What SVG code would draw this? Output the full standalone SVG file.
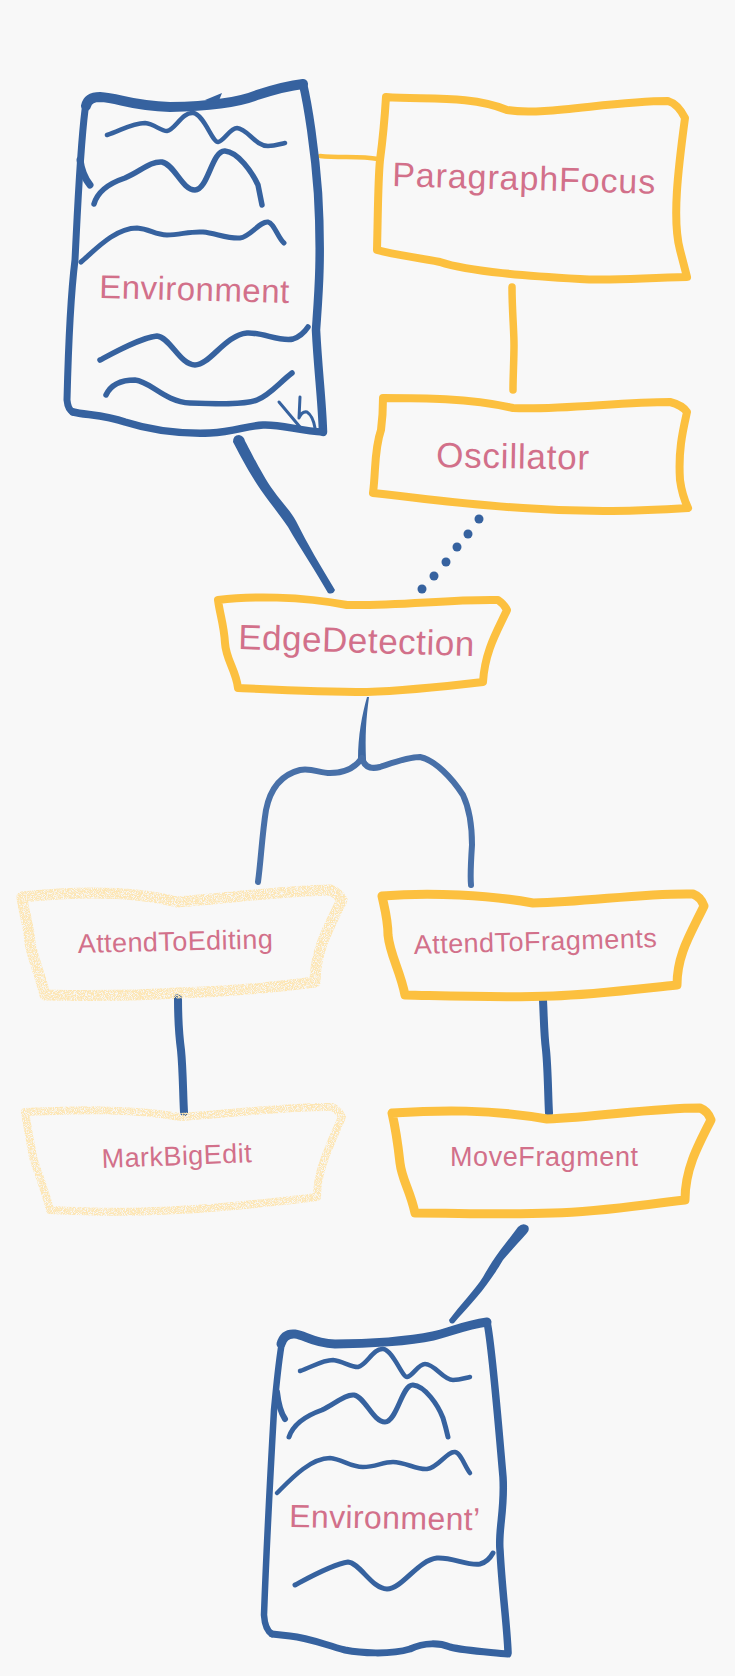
<svg xmlns="http://www.w3.org/2000/svg" width="735" height="1676" viewBox="0 0 735 1676">
<style>
.s{fill:none;stroke-linecap:round;stroke-linejoin:round}
.b{stroke:#36629f}
.y{stroke:#fcc03f}
.f{fill:#36629f}
.box{fill:none;stroke:#fcc03f;stroke-width:8;stroke-linejoin:round}
.pale{fill:none;stroke:#fde6b4;stroke-linejoin:round;filter:url(#grain)}
.t{font-family:"Liberation Sans",Arial,sans-serif;fill:#d2708a}
</style>
<defs>
<filter id="grain" x="-5%" y="-5%" width="110%" height="110%">
<feTurbulence type="fractalNoise" baseFrequency="1.1" numOctaves="2" seed="4" result="n"/>
<feColorMatrix in="n" type="matrix" values="0 0 0 0 0 0 0 0 0 0 0 0 0 0 0 0 0 0 4 -1.3" result="m"/>
<feComposite in="SourceGraphic" in2="m" operator="in"/>
</filter>
</defs>
<rect width="735" height="1676" fill="#f8f8f8"/>
<g id="connectors">
<path class="s y" stroke-width="4.5" d="M320 156C340 158 360 156 378 159"/>
<path class="s y" stroke-width="7.5" d="M512 287C512 310 514 330 514 345C514 360 513 375 513 390"/>
<path class="f" d="M233 442Q233 435 239 435Q244 436 245 441C250 450 262 475 273 490C282 503 290 510 296 521C308 545 320 565 335 590Q333 595 328 593C315 570 300 548 288 527C280 515 270 503 263 493C255 482 245 465 233 442Z"/>
<g class="f"><circle cx="479" cy="519" r="4.5"/><circle cx="468" cy="534" r="4.5"/><circle cx="457" cy="547" r="4.5"/><circle cx="446" cy="562" r="4.5"/><circle cx="434" cy="576" r="4.5"/><circle cx="422" cy="589" r="4.5"/></g>
<path fill="#3f69a3" d="M369 697C366 720 365 735 366 760L358 760C358 735 362 715 367 697Z"/>
<path class="s" stroke="#4870a8" stroke-width="6" d="M362 758C355 768 345 773 330 773C320 773 312 768 300 770C280 775 270 790 266 810C262 835 261 860 258 882"/>
<path class="s" stroke="#4870a8" stroke-width="6" d="M363 761C366 768 372 769 380 767C395 762 408 757 420 757C435 760 452 778 463 795C470 810 472 825 472 845C471 860 470 875 471 885"/>
<path class="s b" stroke-width="8" d="M178 998C178 1020 179 1035 181 1050C183 1070 183 1095 184 1112"/>
<path class="s b" stroke-width="8" d="M543 1000C544 1020 544 1035 546 1050C548 1070 548 1095 549 1113"/>
<path class="f" d="M518 1227Q523 1222 528 1226Q530 1230 527 1233C518 1243 510 1252 503 1260C497 1270 495 1273 490 1280C480 1295 465 1310 454 1323Q450 1325 449 1320C460 1305 475 1290 483 1277C487 1270 490 1265 492 1262C500 1250 510 1238 518 1227Z"/>
</g>
<g id="environment">
<path class="s b" stroke-width="10" d="M86 106Q88 97 100 97C120 98 130 106 170 107C215 106 240 102 257 95Q285 86 303 84"/>
<path class="s b" stroke-width="8.5" d="M303 84C308 105 315 150 318 193C322 260 318 300 316 330C318 370 322 400 323 432"/>
<path class="s b" stroke-width="7.5" d="M323 432C300 431 280 424 263 425C245 426 235 432 210 433C180 434 150 430 125 422C105 415 85 415 73 412"/>
<path class="s b" stroke-width="7" d="M73 412Q68 410 67 400C68 360 70 300 75 260C78 200 80 150 85 110"/>
<path class="s b" stroke-width="7" d="M80 160Q82 175 90 185"/>
<path class="f" d="M205 100L222 93L218 103Z"/>
<path class="s b" stroke-width="4.5" d="M107 135C120 131 132 123 145 123C155 124 160 131 167 131C175 130 182 112 193 113C204 114 212 142 218 142C224 141 230 128 237 128C248 129 255 146 268 146C275 146 280 144 285 143"/>
<path class="s b" stroke-width="5.5" d="M94 204C98 190 110 183 125 178C140 172 150 161 162 162C175 165 182 190 195 190C208 190 212 150 225 151C238 152 252 172 258 185Q260 195 262 205"/>
<path class="s b" stroke-width="5" d="M81 262C95 250 115 228 137 228C150 229 155 235 167 235C180 235 190 231 203 232C215 233 228 239 240 238C250 237 260 221 268 222C274 223 278 238 284 243"/>
<path class="s b" stroke-width="5.5" d="M100 360C115 352 140 338 157 336C170 337 180 365 195 365C210 365 225 335 247 333C262 332 280 342 293 339Q302 336 308 327"/>
<path class="s b" stroke-width="5.5" d="M106 395C112 382 125 380 135 380C150 381 165 402 190 403C215 404 245 405 257 400C270 395 280 382 292 373"/>
<path class="s b" stroke-width="3" d="M279 402L300 427M300 397L299 418Q302 411 307 412Q313 416 315 428"/>
<text class="t" font-size="33" x="99" y="298" textLength="190" transform="rotate(1.5 99 298)">Environment</text>
</g>
<g id="paragraphfocus">
<path class="box" d="M386 97C425 100 470 95 507 110C545 116 610 101 668 101Q678 104 685 118C678 170 672 220 680 250L687 277C640 278 610 281 580 279C530 276 470 272 440 262C415 257 395 255 377 250C378 210 378 180 380 160Q384 130 386 97Z"/>
<text class="t" font-size="34" x="392" y="186" textLength="263" transform="rotate(1.7 392 186)">ParagraphFocus</text>
</g>
<g id="oscillator">
<path class="box" d="M383 398C420 398 470 398 513 408C560 410 620 402 670 402Q682 405 687 412C683 430 678 450 680 480Q682 495 688 508C640 511 590 513 523 508C470 505 420 498 373 493C376 470 374 450 381 430Q383 415 383 398Z"/>
<text class="t" font-size="35" x="436" y="467" textLength="153" transform="rotate(1 436 467)">Oscillator</text>
</g>
<g id="edgedetection">
<path class="box" d="M218 600C250 596 300 596 347 605C400 606 450 599 498 600Q504 604 507 610C498 630 485 650 483 682C440 687 400 691 367 692C320 692 280 690 238 688C236 670 226 660 225 643C224 625 220 615 218 600Z"/>
<text class="t" font-size="35" x="238" y="649" textLength="236" transform="rotate(1.7 238 649)">EdgeDetection</text>
</g>
<g id="attendtoediting">
<path class="pale" stroke-width="11" d="M22 897C70 892 130 890 177 902C230 898 280 891 330 890Q338 893 342 900C330 925 315 950 315 982C270 988 220 992 177 993C130 996 90 996 45 995C40 975 32 955 30 943C29 925 24 915 22 897Z"/>
<text class="t" font-size="27" x="78" y="953" textLength="195" transform="rotate(-1.4 78 953)">AttendToEditing</text>
</g>
<g id="markbigedit">
<path class="pale" stroke-width="8" d="M25 1112C77 1110 130 1108 180 1117C230 1114 290 1106 332 1107Q339 1110 342 1117C330 1145 317 1170 317 1197C260 1204 200 1209 177 1210C130 1213 90 1212 50 1210C45 1190 35 1165 33 1157C30 1140 28 1130 25 1112Z"/>
<text class="t" font-size="27" x="102" y="1168" textLength="150" transform="rotate(-2.2 102 1168)">MarkBigEdit</text>
</g>
<g id="attendtofragments">
<path class="box" d="M382 896C430 892 490 895 533 903C590 902 640 893 693 894Q701 897 704 906C690 935 677 955 677 985C630 990 590 995 553 996C500 998 450 996 405 995C400 970 390 955 388 935C388 920 385 910 382 896Z" style="stroke-width:9"/>
<text class="t" font-size="27" x="414" y="954" textLength="243" transform="rotate(-1.6 414 954)">AttendToFragments</text>
</g>
<g id="movefragment">
<path class="box" style="stroke-width:9" d="M392 1113C440 1110 490 1109 547 1119C600 1117 650 1108 700 1108Q708 1111 711 1120C697 1147 685 1170 685 1200C640 1205 600 1212 553 1213C500 1215 460 1213 415 1213C410 1190 402 1180 400 1163C398 1145 396 1130 392 1113Z"/>
<text class="t" font-size="27" x="450" y="1166" textLength="188">MoveFragment</text>
</g>
<g id="environment-prime">
<path class="s b" stroke-width="9" d="M281 1344Q284 1333 295 1334C305 1335 312 1343 335 1344C370 1344 410 1341 433 1336C450 1332 465 1325 487 1322"/>
<path class="s b" stroke-width="7.5" d="M487 1322C492 1345 498 1420 503 1477C505 1510 498 1530 500 1550C502 1590 507 1625 508 1652"/>
<path class="s b" stroke-width="7" d="M508 1654C490 1652 465 1651 450 1647C440 1643 425 1642 410 1649C390 1655 360 1653 345 1650C325 1645 310 1638 290 1636L272 1634"/>
<path class="s b" stroke-width="6.5" d="M272 1634Q265 1630 264 1615C266 1560 270 1480 274 1410C276 1390 278 1365 282 1342"/>
<path class="s b" stroke-width="6" d="M277 1392Q279 1410 285 1419"/>
<path class="s b" stroke-width="4.5" d="M300 1371C312 1367 322 1360 333 1360C343 1361 350 1367 358 1367C367 1365 373 1348 383 1349C393 1350 402 1377 407 1377C413 1376 418 1364 425 1364C435 1364 443 1380 453 1380C460 1380 465 1378 470 1377"/>
<path class="s b" stroke-width="5" d="M289 1437C293 1425 305 1416 322 1410C335 1404 345 1394 354 1395C365 1397 373 1422 385 1422C397 1422 402 1384 413 1385C425 1386 438 1405 443 1418Q446 1428 448 1437"/>
<path class="s b" stroke-width="4.5" d="M277 1493C290 1480 310 1458 330 1458C342 1459 350 1467 363 1467C375 1467 383 1462 393 1462C405 1462 417 1470 427 1469C438 1468 447 1451 455 1452C461 1453 465 1467 470 1473"/>
<path class="s b" stroke-width="5" d="M295 1585C310 1577 333 1564 348 1562C360 1563 372 1589 387 1589C402 1589 418 1560 437 1558C452 1557 468 1566 480 1564Q488 1562 493 1553"/>
<text class="t" font-size="32" x="289" y="1527" textLength="191" transform="rotate(1 289 1527)">Environment’</text>
</g>
</svg>
